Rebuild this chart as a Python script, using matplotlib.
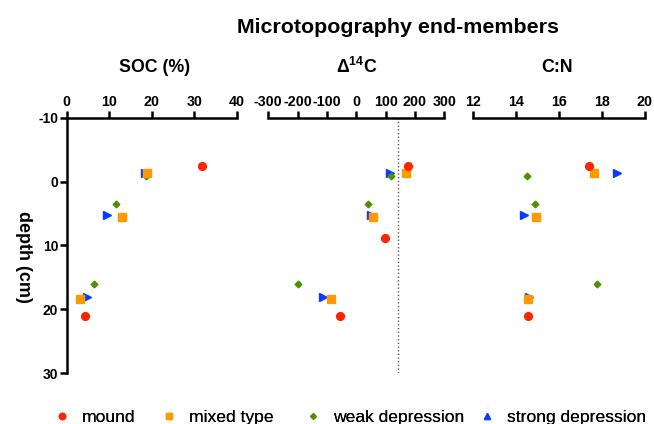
import numpy as np
import matplotlib
matplotlib.use("Agg")
import matplotlib.pyplot as plt
from matplotlib.lines import Line2D

plt.rcParams['font.family'] = ['Liberation Sans', 'DejaVu Sans']
plt.rcParams['mathtext.fontset'] = 'custom'
plt.rcParams['mathtext.rm'] = 'Liberation Sans'
plt.rcParams['mathtext.bf'] = 'Liberation Sans:bold'
plt.rcParams['axes.unicode_minus'] = False

# depth (cm) per microtopography type
depth_mound = [-2.4, 8.8, 21.0]
depth_mixed = [-1.4, 5.6, 18.3]
depth_weak = [-0.9, 3.5, 16.1]
depth_strong = [-1.4, 5.3, 18.0]

# SOC (%)
soc_mound = [31.9, np.nan, 4.2]
soc_mixed = [18.9, 12.9, 3.1]
soc_weak = [18.6, 11.5, 6.5]
soc_strong = [18.3, 9.4, 4.7]

# Delta 14C
d14c_mound = [178, 98, -55]
d14c_mixed = [168, 57, -86]
d14c_weak = [117, 39, -199]
d14c_strong = [115, 49, -114]
d14c_atm = 141

# C:N
cn_mound = [17.39, np.nan, 14.55]
cn_mixed = [17.64, 14.93, 14.56]
cn_weak = [14.52, 14.87, 17.78]
cn_strong = [18.68, 14.36, 14.6]

labels = ['mound', 'mixed type', 'weak depression', 'strong depression']
colors = ['#ff2400', '#ff9900', '#4f8f00', '#0a3cff']

fig = plt.figure(figsize=(6.54, 4.24), dpi=100)

bottom, height = 0.1196, 0.6028
ax1 = fig.add_axes([0.102, bottom, 0.260, height])
ax2 = fig.add_axes([0.4102, bottom, 0.2691, height])
ax3 = fig.add_axes([0.7237, bottom, 0.2625, height])

panels = [
    (ax1, [soc_strong, soc_weak, soc_mixed, soc_mound], (0, 40), [0, 10, 20, 30, 40]),
    (ax2, [d14c_strong, d14c_weak, d14c_mixed, d14c_mound], (-300, 300),
     [-300, -200, -100, 0, 100, 200, 300]),
    (ax3, [cn_strong, cn_weak, cn_mixed, cn_mound], (12, 20), [12, 14, 16, 18, 20]),
]
depths = [depth_strong, depth_weak, depth_mixed, depth_mound]
styles = [('>', 5.5, colors[3]), ('D', 3.4, colors[2]), ('s', 5.6, colors[1]), ('o', 5.6, colors[0])]

for ax, series, xlim, xticks in panels:
    if ax is ax2:
        ax.axvline(d14c_atm, color='#555555', ls=':', lw=1.0, zorder=1)
    for vals, dep, (m, ms, c) in zip(series, depths, styles):
        ax.plot(vals, dep, ls='none', marker=m, ms=ms, color=c, mec=c, zorder=3)
    ax.set_xlim(*xlim)
    ax.set_xticks(xticks)
    ax.set_ylim(30, -10)
    ax.xaxis.tick_top()
    ax.tick_params(axis='x', direction='out', length=5, width=1.8, pad=1, labelsize=10.3)
    for lab in ax.get_xticklabels():
        lab.set_fontweight('bold')
    for s in ['bottom', 'right']:
        ax.spines[s].set_visible(False)
    ax.spines['top'].set_linewidth(1.8)
    if ax is ax1:
        ax.spines['left'].set_linewidth(1.8)
        ax.set_yticks([-10, 0, 10, 20, 30])
        ax.tick_params(axis='y', direction='out', length=5, width=1.8, pad=1, labelsize=10)
        for lab in ax.get_yticklabels():
            lab.set_fontweight('bold')
    else:
        ax.spines['left'].set_visible(False)
        ax.set_yticks([])
    ax.patch.set_visible(False)

fig.text(398 / 654, 1 - 33 / 424, 'Microtopography end-members', ha='center', va='baseline',
         fontsize=15.4, fontweight='bold')
fig.text(155 / 654, 1 - 67 / 424, 'SOC (%)', ha='center', va='center', fontsize=12.8, fontweight='bold')
fig.text(357 / 654, 1 - 67 / 424, r'$\mathbf{\Delta^{14}C}$', ha='center', va='center', fontsize=12.8)
fig.text(557 / 654, 1 - 67 / 424, 'C:N', ha='center', va='center', fontsize=12.8, fontweight='bold')
fig.text(23 / 654, 1 - 257 / 424, 'depth (cm)', ha='center', va='center', rotation=270,
         fontsize=13, fontweight='bold')

# legend entries, one small legend each so they sit where the original has them
handles = [
    Line2D([], [], ls='none', marker='o', ms=4.5, color=colors[0]),
    Line2D([], [], ls='none', marker='s', ms=4.8, color=colors[1]),
    Line2D([], [], ls='none', marker='D', ms=2.8, color=colors[2]),
    Line2D([], [], ls='none', marker='^', ms=4.5, color=colors[3]),
]
marker_x = [62, 169, 313, 487]
leg_fs = 12.6
half_handle = leg_fs * 100 / 72 / 2
for h, lab, mx in zip(handles, labels, marker_x):
    leg = fig.legend([h], [lab], loc='center left',
                     bbox_to_anchor=((mx - half_handle) / 654, 1 - 417 / 424),
                     frameon=False, fontsize=leg_fs, handlelength=1.0, handletextpad=0.62,
                     borderpad=0, borderaxespad=0)
    fig.add_artist(leg)

fig.savefig('out.png', dpi=100)
